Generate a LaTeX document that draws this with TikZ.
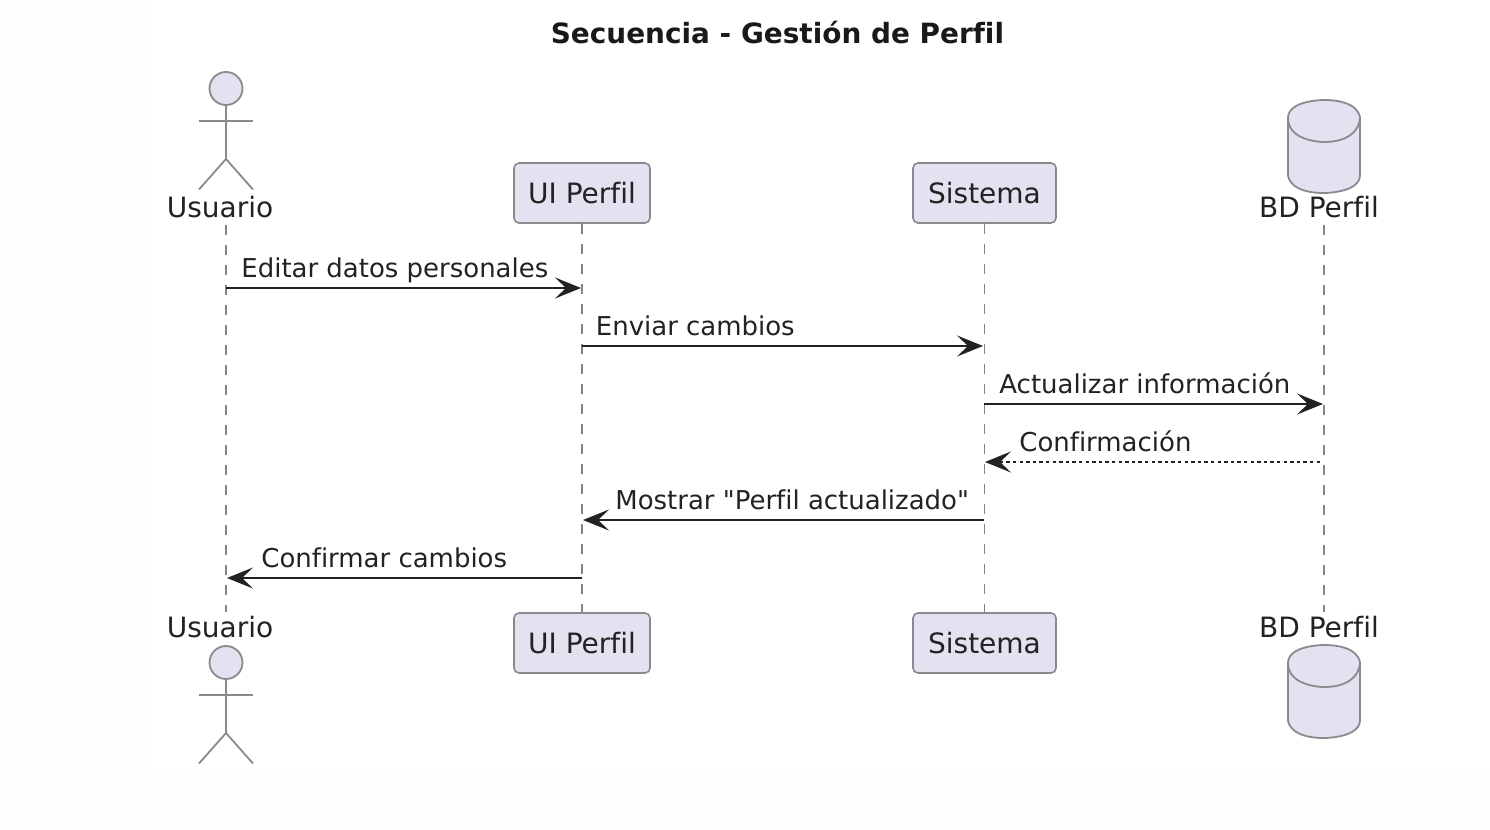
\documentclass[tikz,border=0pt]{standalone}
\usepackage{fontspec}
\newfontfamily\djv{DejaVu Sans}[Ligatures={NoCommon}]
\usetikzlibrary{arrows.meta}
\definecolor{pfill}{HTML}{E2E2F0}
\definecolor{pline}{HTML}{8A8A8E}
\definecolor{lifec}{HTML}{848487}
\definecolor{ink}{HTML}{222222}
\definecolor{offw}{HTML}{FDFDFD}
\tikzset{
  x=0.5pt,y=-0.5pt,
  txt/.style={inner sep=0pt,text=ink,font=\djv\fontsize{14}{16}\selectfont},
  lbl/.style={inner sep=0pt,text=ink,font=\djv\fontsize{12.98}{15}\selectfont,anchor=base west},
  actorlabel/.style={txt,anchor=base},
  box/.style={draw=pline,fill=pfill,line width=0.8pt,rounded corners=2.5pt,minimum height=30pt,inner sep=0pt,text=ink,font=\djv\fontsize{14}{16}\selectfont},
  figure/.style={draw=pline,line width=0.9pt},
  headc/.style={circle,draw=pline,fill=pfill,line width=0.9pt,minimum size=16.5pt,inner sep=0pt},
  lifeline/.style={draw=lifec,line width=0.65pt,dash pattern=on 5pt off 5pt},
  msg/.style={draw=ink,line width=1.05pt,-{Stealth[length=13pt,width=10.5pt,inset=5.5pt]},shorten >=0pt},
  reply/.style={msg,line width=0.95pt,dash pattern=on 1.7pt off 1.6pt},
}
\newcommand{\actorfig}[2]{%
  \draw[figure] (#1,#2+16.5) -- (#1,#2+70.5);
  \draw[figure] (#1-27,#2+32.5) -- (#1+27,#2+32.5);
  \draw[figure] (#1-27,#2+101) -- (#1,#2+70.5) -- (#1+27,#2+101);
}
\newcommand{\dbfig}[1]{%
  \draw[figure,fill=pfill] (1288,#1+18) .. controls (1288,#1) and (1324,#1) .. (1324,#1)
    .. controls (1360,#1) and (1360,#1+18) .. (1360,#1+18)
    -- (1360,#1+75) .. controls (1360,#1+93) and (1324,#1+93) .. (1324,#1+93)
    .. controls (1288,#1+93) and (1288,#1+75) .. (1288,#1+75) -- cycle;
  \draw[figure] (1288,#1+18) .. controls (1288,#1+42) and (1324,#1+42) .. (1324,#1+42)
    .. controls (1360,#1+42) and (1360,#1+18) .. (1360,#1+18);
}
\begin{document}
\begin{tikzpicture}
\useasboundingbox (0,0) rectangle (1490,830);
\fill[offw] (0,0) rectangle (1490,830);
\fill[white] (152,0) rectangle (1490,770);

\node[inner sep=0pt,text=black!90,font=\djv\bfseries\fontsize{13.95}{18}\selectfont,anchor=base] (title) at (777.5,43.5) {Secuencia - Gestión de Perfil};

% lifeline ends
\coordinate (ut) at (226,225); \coordinate (ub) at (226,612);
\coordinate (dt) at (1324,225); \coordinate (db) at (1324,612);
\node[box,minimum width=68pt] (uitop) at (582,193) {UI Perfil};
\node[box,minimum width=71.5pt] (sistop) at (984.5,193) {Sistema};
\node[box,minimum width=68pt] (uibot) at (582,643) {UI Perfil};
\node[box,minimum width=71.5pt] (sisbot) at (984.5,643) {Sistema};

\draw[lifeline] (ut) -- (ub);
\draw[lifeline] (uitop.south) -- (uibot.north);
\draw[lifeline] (sistop.south) -- (sisbot.north);
\draw[lifeline] (dt) -- (db);

% actors
\actorfig{226}{88.5}
\node[headc] (headt) at (226,88.5) {};
\actorfig{226}{662.5}
\node[headc] (headb) at (226,662.5) {};
\node[actorlabel] (usrt) at (220,217.5) {Usuario};
\node[actorlabel] (usrb) at (220,637.5) {Usuario};

% databases
\dbfig{100}
\dbfig{645}
\node[actorlabel] (dbt) at (1319,217.5) {BD Perfil};
\node[actorlabel] (dbb) at (1319,637.5) {BD Perfil};

% messages
\coordinate (a1) at (226,288); \coordinate (b1) at (581,288);
\coordinate (a2) at (582,346); \coordinate (b2) at (983,346);
\coordinate (a3) at (984,404); \coordinate (b3) at (1323,404);
\coordinate (a4) at (1320,462); \coordinate (b4) at (985,462);
\coordinate (a5) at (984,520); \coordinate (b5) at (583,520);
\coordinate (a6) at (582,578); \coordinate (b6) at (227,578);
\draw[msg] (a1) -- (b1);
\draw[msg] (a2) -- (b2);
\draw[msg] (a3) -- (b3);
\draw[reply] (a4) -- (b4);
\draw[msg] (a5) -- (b5);
\draw[msg] (a6) -- (b6);
\node[lbl] (m1) at (241,277.5) {Editar datos personales};
\node[lbl] (m2) at (595.5,335.5) {Enviar cambios};
\node[lbl] (m3) at (999,393.5) {Actualizar información};
\node[lbl] (m4) at (1019,451.5) {Confirmación};
\node[lbl] (m5) at (615,509.5) {Mostrar "Perfil actualizado"};
\node[lbl] (m6) at (261,567.5) {Confirmar cambios};
\end{tikzpicture}
\end{document}
